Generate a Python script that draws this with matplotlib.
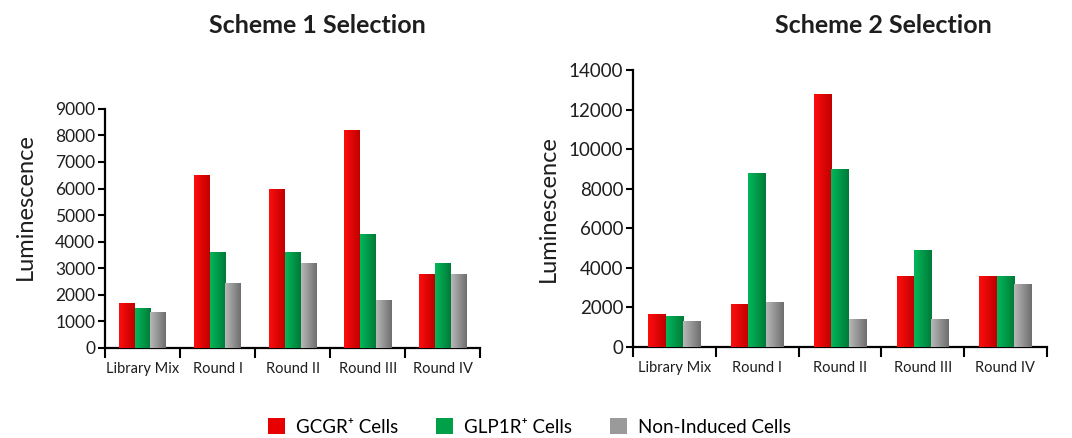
import numpy as np
import matplotlib
matplotlib.use("Agg")
import matplotlib.pyplot as plt
from matplotlib.colors import to_rgb
from matplotlib.patches import Patch

plt.rcParams["font.family"] = ["Lato", "DejaVu Sans"]

CATEGORIES = ["Library Mix", "Round I", "Round II", "Round III", "Round IV"]
SERIES = ["GCGR\u207a Cells", "GLP1R\u207a Cells", "Non-Induced Cells"]

SCHEME1_GCGR = [1700, 6500, 6000, 8200, 2800]
SCHEME1_GLP1R = [1500, 3600, 3600, 4300, 3200]
SCHEME1_NONIND = [1350, 2450, 3200, 1800, 2800]

SCHEME2_GCGR = [1650, 2150, 12800, 3600, 3600]
SCHEME2_GLP1R = [1550, 8800, 9000, 4900, 3600]
SCHEME2_NONIND = [1300, 2250, 1400, 1400, 3200]

# (left, right) colours of the horizontal gradient on each bar
SHADES = [("#ff0d0d", "#c00000"), ("#00b85a", "#007a38"), ("#b8b8b8", "#6e6e6e")]
LEGEND_COLORS = ["#e80000", "#00a048", "#9a9a9a"]
BAR_W = 0.21
TEXT = "#1e1e1e"


def shade(ax, bars, left, right):
    t = np.linspace(0, 1, 64)[None, :, None]
    img = (1 - t) * np.array(to_rgb(left)) + t * np.array(to_rgb(right))
    for b in bars:
        x, y, w, h = b.get_x(), b.get_y(), b.get_width(), b.get_height()
        im = ax.imshow(img, extent=(x, x + w, y, y + h), aspect="auto",
                       interpolation="bilinear", zorder=3)
        im.set_clip_path(b)


def panel(ax, data, ymax, ystep, tick_fs):
    x = np.arange(len(CATEGORIES))
    for i, vals in enumerate(data):
        bars = ax.bar(x + (i - 1) * BAR_W, vals, BAR_W, color=SHADES[i][1],
                      linewidth=0, zorder=2)
        shade(ax, bars, *SHADES[i])
    ax.set_xlim(-0.5, len(CATEGORIES) - 0.5)
    ax.set_ylim(0, ymax)
    ax.set_yticks(np.arange(0, ymax + 1, ystep))
    ax.set_xticks(x)
    ax.set_xticklabels(CATEGORIES, fontsize=10.5, color=TEXT)
    ax.set_xticks(np.arange(-0.5, len(CATEGORIES), 1), minor=True)
    ax.tick_params(axis="x", which="major", length=0, pad=10)
    ax.tick_params(axis="x", which="minor", length=7, width=1.5, direction="out")
    ax.tick_params(axis="y", length=5, width=1.5, labelsize=tick_fs, pad=2,
                   labelcolor=TEXT)
    for s in ("top", "right"):
        ax.spines[s].set_visible(False)
    for s in ("left", "bottom"):
        ax.spines[s].set_linewidth(1.6)
    ax.set_ylabel("Luminescence", fontsize=17, color=TEXT)


fig = plt.figure(figsize=(10.72, 4.38), dpi=100)
ax1 = fig.add_axes([0.098, 0.2055, 0.350, 0.546])
ax2 = fig.add_axes([0.5905, 0.2078, 0.386, 0.632])

panel(ax1, [SCHEME1_GCGR, SCHEME1_GLP1R, SCHEME1_NONIND], 9000, 1000, 12.5)
panel(ax2, [SCHEME2_GCGR, SCHEME2_GLP1R, SCHEME2_NONIND], 14000, 2000, 13.5)
ax1.yaxis.set_label_coords(-0.185, 0.59)
ax2.yaxis.set_label_coords(-0.18, 0.5)

fig.text(0.296, 0.942, "Scheme 1 Selection", ha="center", va="center",
         fontsize=18, fontweight="bold", color=TEXT)
fig.text(0.824, 0.942, "Scheme 2 Selection", ha="center", va="center",
         fontsize=18, fontweight="bold", color=TEXT)

handles = [Patch(facecolor=c, edgecolor="none") for c in LEGEND_COLORS]
fig.legend(handles, SERIES, loc="center", bbox_to_anchor=(0.494, 0.025),
           ncol=3, frameon=False, fontsize=13.5, handlelength=0.9,
           handleheight=0.9, columnspacing=2.0, handletextpad=0.6)

fig.savefig("out.png", dpi=100)
